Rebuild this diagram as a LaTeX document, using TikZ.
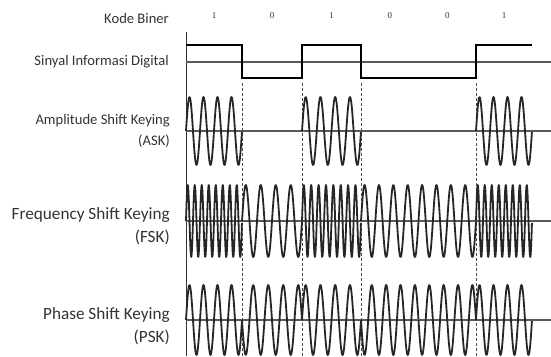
\documentclass[tikz,border=0pt]{standalone}
\usepackage{fontspec}
\setmainfont{Carlito}
\newfontfamily\bitfont{Liberation Serif}

\begin{document}
\begin{tikzpicture}[x=1pt,y=-1pt,
    label/.style={anchor=east,text=black!80,inner sep=0pt},
    small/.style={label,font=\fontsize{14.6}{16}\selectfont},
    big/.style={label,font=\fontsize{17.2}{19}\selectfont},
    axisline/.style={black!65,line width=1.1pt},
    wave/.style={black!85,line width=1.8pt,line join=round},
    edge/.style={black!70,line width=0.9pt,dash pattern=on 3pt off 2pt}]
      \useasboundingbox (0,0) rectangle (551,356);

      % Labels on the left
      \node[small] (kode) at (169,18) {Kode Biner};
      \node[small] (sinyal) at (169,62) {Sinyal Informasi Digital};
      \node[small] (ask) at (170,121) {Amplitude Shift Keying};
      \node[small] (askb) at (170,141) {(ASK)};
      \node[big] (fsk) at (170,215) {Frequency Shift Keying};
      \node[big] (fskb) at (170,237) {(FSK)};
      \node[big] (psk) at (170,315) {Phase Shift Keying};
      \node[big] (pskb) at (170,337) {(PSK)};

      % Vertical axis
      \coordinate (top) at (186,32);
      \coordinate (bottom) at (186,356);
      \draw[black!80,line width=1pt] (top) -- (bottom);

      % Horizontal axes
      \foreach \y/\name in {62/dig, 131/ask, 221/fsk, 320/psk}{
          \coordinate (\name-l) at (186,\y);
          \coordinate (\name-r) at (551,\y);
          \draw[axisline] (\name-l) -- (\name-r);
        }

      % Digital signal 1 0 1 0 0 1
      \draw[black,line width=1.5pt] (186,45) -- (242,45) -- (242,78) -- (302,78)
          -- (302,45) -- (361,45) -- (361,78) -- (476,78) -- (476,45) -- (532,45);

      % Bit edges
      \foreach \x in {242, 302, 361, 476}{
          \coordinate (e\x) at (\x,83);
          \coordinate (f\x) at (\x,356);
          \draw[edge] (e\x) -- (f\x);
        }

      % One bit per step
      \foreach \a/\b/\bit [count=\i] in {186/242/1, 242/302/0, 302/361/1,
                                         361/418.5/0, 418.5/476/0, 476/532/1}{
          % binary code
          \node[text=black!80,font=\bitfont\fontsize{9}{10}\selectfont]
              (b\i) at ({(\a+\b)/2},16) {\bit};
          % ASK: carrier only for 1
          \ifnum\bit=1
            \draw[wave] plot[domain=0:1,samples=120]
                ({\a+(\b-\a)*\x}, {131-34*sin(4*360*\x)});
          \fi
          % FSK: 8 cycles for 1, 4 cycles for 0
          \draw[wave] plot[domain=0:1,samples=200]
              ({\a+(\b-\a)*\x}, {221-36*sin((4+4*\bit)*360*\x)});
          % PSK: phase turned by 180 for 0
          \draw[wave] plot[domain=0:1,samples=120]
              ({\a+(\b-\a)*\x}, {320-35*sin(4*360*\x+180*(1-\bit))});
        }

    \end{tikzpicture}
\end{document}
